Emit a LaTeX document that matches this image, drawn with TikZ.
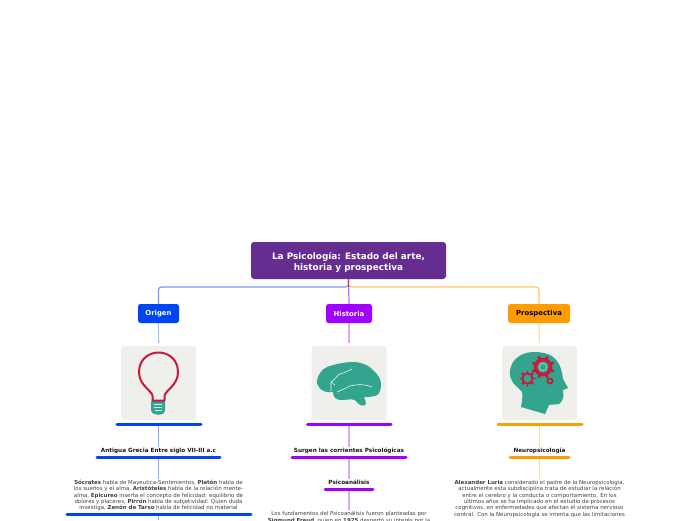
\documentclass[tikz,border=0pt]{standalone}
\usepackage{fontspec}
\setmainfont{DejaVu Sans}
\definecolor{rootc}{HTML}{662D91}
\definecolor{blu}{HTML}{0045F5}
\definecolor{pur}{HTML}{A000FF}
\definecolor{org}{HTML}{FF9C00}
\definecolor{tile}{HTML}{EFEFEB}
\definecolor{teal}{HTML}{33A58E}
\definecolor{crim}{HTML}{C8193C}
\tikzset{
 rootbox/.style={fill=rootc,rounded corners=3pt,minimum width=195pt,minimum height=37pt,inner sep=0pt,align=center,text=white,font=\fontsize{8.9}{11.2}\selectfont\bfseries},
 mainbox/.style={rounded corners=2.5pt,minimum height=19pt,inner sep=0pt,font=\fontsize{6.9}{7}\selectfont\bfseries},
 tilebox/.style={fill=tile,rounded corners=3pt,minimum width=75pt,minimum height=74pt,inner sep=0pt},
 head/.style={inner sep=0pt,font=\fontsize{5.7}{6}\selectfont\bfseries,text=black!90},
 body/.style={inner sep=0pt,align=center,text=black!75,font=\fontsize{5.45}{6.45}\selectfont},
 rule/.style={line width=3pt,line cap=round},
 link/.style={line width=1.2pt},
}
\begin{document}
\begin{tikzpicture}[x=1pt,y=-1pt]
\useasboundingbox (0,0) rectangle (696,520);
\clip (0,0) rectangle (696,520);
% nodes
\node[rootbox] (root) at (348.5,260.5) {\rule{0pt}{10.5pt}La Psicología: Estado del arte,\\historia y prospectiva};
\node[mainbox,fill=blu,text=white,minimum width=41pt] (orig) at (158.5,313.5) {Origen};
\node[mainbox,fill=pur,text=white,minimum width=46pt] (hist) at (349,313.5) {Historia};
\node[mainbox,fill=org,text=black,minimum width=62pt] (pros) at (539,313.5) {Prospectiva};
\node[tilebox] (t1) at (158.7,383) {};
\node[tilebox] (t2) at (349,383) {};
\node[tilebox] (t3) at (539.5,383) {};
% underlines as coordinates
\coordinate (u1) at (158.5,424.5); \coordinate (u2) at (349,424.5); \coordinate (u3) at (539.5,424.5);
\node[head] (h1) at (158.5,450.6) {Antigua Grecia Entre siglo VII-III a.c};
\node[head] (h2) at (349,450.6) {Surgen las corrientes Psicológicas};
\node[head] (h3) at (539.5,450.6) {Neuropsicología};
\coordinate (v1) at (158.5,457); \coordinate (v2) at (349,457); \coordinate (v3) at (539.5,457);
\node[head] (p2) at (349,482.6) {Psicoanálisis};
\coordinate (w2) at (349,489);
\node[body,anchor=north] (b1) at (158.5,479.6) {\textbf{Sócrates} habla de Mayeutica-Sentimientos, \textbf{Platón} habla de\\los sueños y el alma, \textbf{Aristóteles} habla de la relación mente-\\alma, \textbf{Epicureo} inserta el concepto de felicidad: equilibrio de\\dolores y placeres, \textbf{Pirrón} habla de subjetividad: Quien duda\\investiga, \textbf{Zenón de Tarso} habla de felicidad no material};
\node[body,anchor=north] (b2) at (349,511.3) {Los fundamentos del Psicoanálisis fueron planteadas por\\\textbf{Sigmund Freud}, quien en \textbf{1925} despertó su interés por la};
\node[body,anchor=north] (b3) at (539.5,479.6) {\textbf{Alexander Luria} considerado el padre de la Neuropsicología,\\actualmente esta subdisciplina trata de estudiar la relación\\entre el cerebro y la conducta o comportamiento. En los\\últimos años se ha implicado en el estudio de procesos\\cognitivos, en enfermedades que afectan el sistema nervioso\\central. Con la Neuropsicología se intenta que las limitaciones};
\coordinate (z1) at (158.5,514.5);
\coordinate (e1) at (158.5,520);
% connectors
\draw[link,draw=org!60,rounded corners=3pt] (root.south) |- (449,287) -| (pros.north);
\draw[link,draw=blu!55,rounded corners=3pt] (root.south) |- (250,287) -| (orig.north);
\draw[link,draw=pur!60] (root.south) -- (hist.north);
\draw[link,draw=crim!70!org] (root.south) -- ++(0,8);
\foreach \a/\b/\c in {orig/t1/blu,hist/t2/pur,pros/t3/org}
  \draw[link,draw=\c!35,shorten >=3pt] (\a.south) -- (\b.north);
\draw[link,draw=blu!45,shorten >=1pt] (u1) -- (h1.north);
\draw[link,draw=blu!45,shorten >=1pt] (v1) -- (b1.north);
\draw[link,draw=blu!45] (z1) -- (e1);
\draw[link,draw=pur!35,shorten >=1pt] (u2) -- (h2.north);
\draw[link,draw=pur!35,shorten >=1pt] (v2) -- (p2.north);
\draw[link,draw=pur!35,shorten >=1pt] (w2) -- (b2.north);
\draw[link,draw=org!35,shorten >=1pt] (u3) -- (h3.north);
\draw[link,draw=org!35,shorten >=1pt] (v3) -- (b3.north);
% rules
\draw[rule,draw=blu] (117,424.5) -- (201,424.5);
\draw[rule,draw=pur] (307.5,424.5) -- (391,424.5);
\draw[rule,draw=org] (498,424.5) -- (582,424.5);
\draw[rule,draw=blu] (97,457) -- (220,457);
\draw[rule,draw=pur] (292,457) -- (406,457);
\draw[rule,draw=org] (510,457) -- (569,457);
\draw[rule,draw=pur] (325,489) -- (373,489);
\draw[rule,draw=blu] (67,514.5) -- (251,514.5);
% bulb
\fill[teal,rounded corners=1.5pt] (151,400) -- (165,400) -- (165,412) -- (162,414.5) -- (155,414.5) -- (151,412) -- cycle;
\draw[white!85!teal,line width=.6pt] (154,404.5)--(162,404.5) (154,407.5)--(162,407.5) (154.5,410.5)--(161.5,410.5);
\draw[crim,line width=2pt,line join=round] (152.5,400.5) -- (152.5,395.5) .. controls (151,390) and (139,385) .. (139,372) .. controls (139,360) and (148,352.5) .. (158.5,352.5) .. controls (169,352.5) and (178,360) .. (178,372) .. controls (178,385) and (166,390) .. (164.5,395.5) -- (164.5,400.5) -- cycle;
% brain
\fill[teal] (317,380) .. controls (318,375) and (322,369) .. (327,367) .. controls (335,364) and (345,362) .. (353,362) .. controls (362,362) and (370,366) .. (374,371) .. controls (378,375) and (381,379) .. (381,384) .. controls (381,391) and (379,395) .. (375,396) .. controls (371,397) and (367,397) .. (364,397) .. controls (365,400) and (367,403) .. (365,405) .. controls (362,407) and (358,404) .. (356,401) .. controls (354,398) and (347,400) .. (341,400) .. controls (336,400) and (333,397) .. (333,392) .. controls (327,393) and (321,391) .. (319,387) .. controls (317,385) and (317,383) .. (317,380) -- cycle;
\draw[white!90!teal,line width=.6pt] (331,391) -- (331,382) .. controls (335,380) and (337,375) .. (340,374) .. controls (344,373) and (348,371) .. (352,369);
\draw[white!90!teal,line width=.6pt] (335,385) -- (331,382);
\draw[white!90!teal,line width=.6pt] (337,392) .. controls (342,390) and (346,388) .. (350,386) .. controls (357,384) and (365,384) .. (372,387);
% head
\fill[teal] (521,407) .. controls (522,401) and (523,396) .. (522,392) .. controls (519,388) and (514,385) .. (512,381) .. controls (509,376) and (509,370) .. (512,364) .. controls (516,356) and (525,352) .. (534,352) .. controls (545,352) and (553,355) .. (557,361) .. controls (561,366) and (562,372) .. (563,379) -- (568,388) -- (563,390) -- (563.5,396) .. controls (563,399) and (562,402) .. (559,404) .. controls (556,405) and (552,404) .. (549,405) -- (545,414) -- cycle;
% gears
\foreach \k in {0,45,...,315}
  \draw[crim,line width=2.6pt] (543,367) ++(\k+22:7.5) -- ++(\k+22:4);
\draw[crim,line width=3.6pt] (543,367) circle[radius=7.5];
\draw[tile!60!teal,line width=.7pt] (543,367) circle[radius=3.8];
\foreach \k in {0,45,...,315}
  \draw[crim,line width=1.9pt] (527.5,378.5) ++(\k:5.2) -- ++(\k:2.8);
\draw[crim,line width=2pt] (527.5,378.5) circle[radius=5.2];
\draw[crim,line width=1.7pt] (550,381) circle[radius=2.6];
\end{tikzpicture}
\end{document}
